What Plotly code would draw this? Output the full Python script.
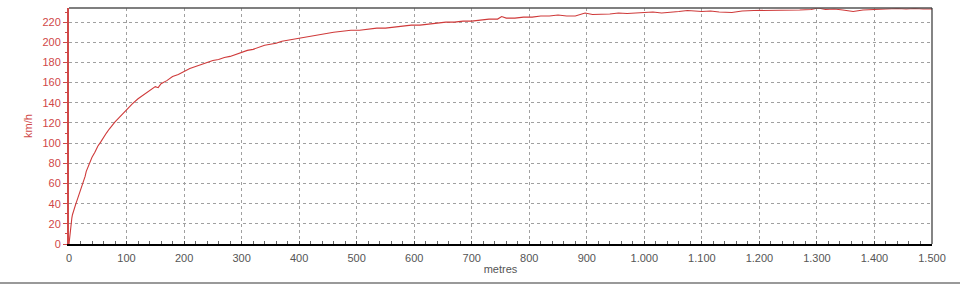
import plotly.graph_objects as go

# distance (m) and speed (km/h)
distance = [0, 1, 2, 3, 4, 5, 6, 8, 10, 12, 15, 18, 20, 23, 25, 28, 30, 33, 35, 38, 40, 45,
            50, 55, 60, 65, 70, 75, 80, 85, 90, 95, 100, 110, 120, 130, 140, 150, 155, 160,
            170, 180, 190, 200, 210, 220, 230, 240, 250, 260, 270, 280, 290, 300, 310, 320,
            330, 340, 350, 360, 370, 380, 390, 400, 415, 430, 445, 460, 475, 490, 505, 520,
            535, 550, 565, 580, 595, 610, 625, 640, 655, 670, 685, 700, 715, 730, 745, 752,
            760, 775, 790, 805, 820, 835, 850, 865, 880, 897, 910, 925, 940, 955, 970, 985,
            1000, 1015, 1030, 1045, 1060, 1075, 1090, 1100, 1115, 1130, 1152, 1170, 1190,
            1210, 1230, 1250, 1270, 1290, 1302, 1315, 1330, 1345, 1363, 1380, 1395, 1410,
            1425, 1440, 1455, 1470, 1485, 1500]
speed = [0, 6, 14, 20, 24, 26, 29, 32, 36, 40, 45, 50, 54, 58, 62, 67, 72, 76, 80, 83, 86, 91,
         97, 101, 106, 110, 114, 118, 121, 124, 127, 131, 134, 139, 144, 148, 152, 156, 155, 159,
         162, 166, 168, 171, 174, 176, 178, 180, 182, 183, 185, 186, 188, 190, 192, 193,
         195, 197, 198, 199, 201, 202, 203, 204, 206, 207, 209, 210, 211, 212, 212, 213,
         214, 214, 215, 216, 217, 217, 218, 219, 220, 220, 221, 221, 222, 223, 223, 225.5,
         224, 224, 225, 225, 226, 226, 227, 226, 226, 229, 227.5, 227.5, 228, 229, 228.5, 229,
         229.5, 230, 229, 229.5, 230.5, 231.5, 231, 230.5, 231, 230, 229.5, 231, 231.5,
         231.5, 232, 232, 232, 232.5, 234, 232.5, 233, 232, 230.5, 232, 232.5, 233,
         233, 233.5, 233, 233.5, 233, 233]

x_tickvals = [0, 100, 200, 300, 400, 500, 600, 700, 800, 900, 1000, 1100, 1200, 1300, 1400, 1500]
x_ticktext = ["0", "100", "200", "300", "400", "500", "600", "700", "800", "900",
              "1.000", "1.100", "1.200", "1.300", "1.400", "1.500"]
y_tickvals = [0, 20, 40, 60, 80, 100, 120, 140, 160, 180, 200, 220]

RED = "#d04848"
LINE_RED = "#cf3a3a"
GRID = "#a0a0a0"
FONT = "Liberation Sans, Arial, sans-serif"

fig = go.Figure()
fig.add_trace(go.Scatter(x=distance, y=speed, mode="lines",
                         line=dict(color=LINE_RED, width=1.1), hoverinfo="skip",
                         showlegend=False))

fig.update_layout(
    width=960, height=286,
    margin=dict(l=69, r=28, t=8, b=42),
    paper_bgcolor="white", plot_bgcolor="white",
    font=dict(family=FONT),
    xaxis=dict(
        range=[0, 1500], tickvals=x_tickvals, ticktext=x_ticktext,
        showgrid=True, gridcolor=GRID, griddash="3px,3px", gridwidth=1,
        showline=True, linecolor="black", linewidth=2,
        ticks="inside", ticklen=3, tickcolor="#444",
        minor=dict(dtick=20, ticks="inside", ticklen=3, tickcolor="#666", showgrid=False),
        tickfont=dict(color="#555", size=11, family=FONT),
        ticklabelstandoff=3,
        title=dict(text="metres", font=dict(color="#555", size=11, family=FONT), standoff=2),
        zeroline=False, fixedrange=True,
    ),
    yaxis=dict(
        range=[0, 234], tickvals=y_tickvals,
        showgrid=True, gridcolor=GRID, griddash="3px,3px", gridwidth=1,
        showline=True, linecolor=RED, linewidth=2,
        ticks="outside", ticklen=4, tickcolor=RED,
        minor=dict(dtick=10, ticks="outside", ticklen=2, tickcolor=RED, showgrid=False),
        tickfont=dict(color=RED, size=11, family=FONT),
        title=dict(text="km/h", font=dict(color=RED, size=11, family=FONT), standoff=8),
        zeroline=False, fixedrange=True,
    ),
    shapes=[
        dict(type="line", xref="paper", yref="paper", x0=0, x1=1, y0=1, y1=1,
             line=dict(color="#555", width=1.5)),
        dict(type="line", xref="paper", yref="paper", x0=1, x1=1, y0=0, y1=1,
             line=dict(color="#333", width=1.2)),
        dict(type="line", xref="paper", yref="paper", x0=-0.08, x1=1.04,
             y0=-0.165, y1=-0.165, line=dict(color="#999", width=2)),
    ],
)

fig.write_html("out.html")
